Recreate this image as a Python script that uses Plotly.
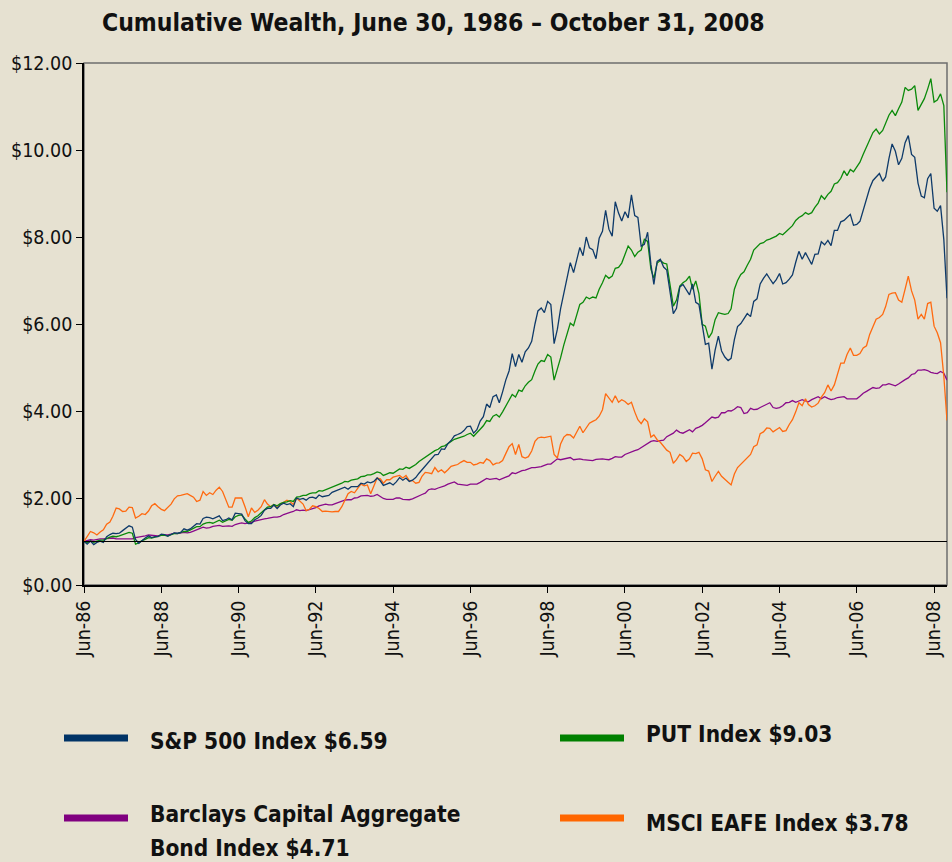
import pandas as pd
import plotly.graph_objects as go

# ---------------- data (monthly, Jun-86 .. Oct-08, growth of $1) ----------------
months = pd.date_range("1986-06-01", "2008-10-01", freq="MS")

sp500 = [
    1.00, 0.94, 1.01, 0.93, 0.98, 1.01, 0.98,                                # 1986 Jun-Dec
    1.11, 1.16, 1.19, 1.18, 1.19, 1.25, 1.31, 1.36, 1.33, 1.05, 0.96, 1.03,  # 1987
    1.08, 1.13, 1.09, 1.11, 1.11, 1.17, 1.16, 1.12, 1.17, 1.20, 1.19, 1.21,  # 1988
    1.29, 1.26, 1.29, 1.36, 1.41, 1.40, 1.53, 1.56, 1.55, 1.52, 1.55, 1.59,  # 1989
    1.48, 1.50, 1.54, 1.50, 1.65, 1.64, 1.63, 1.48, 1.41, 1.41, 1.50, 1.54,  # 1990
    1.60, 1.72, 1.76, 1.76, 1.84, 1.76, 1.84, 1.88, 1.85, 1.87, 1.80, 2.00,  # 1991
    1.97, 1.99, 1.95, 2.01, 2.02, 1.99, 2.07, 2.03, 2.05, 2.06, 2.13, 2.16,  # 1992
    2.18, 2.21, 2.25, 2.20, 2.26, 2.26, 2.26, 2.34, 2.32, 2.37, 2.35, 2.38,  # 1993
    2.46, 2.39, 2.29, 2.32, 2.35, 2.30, 2.37, 2.47, 2.41, 2.46, 2.38, 2.41,  # 1994
    2.47, 2.57, 2.65, 2.72, 2.83, 2.90, 2.99, 3.00, 3.13, 3.12, 3.25, 3.32,  # 1995
    3.43, 3.46, 3.49, 3.55, 3.64, 3.65, 3.49, 3.57, 3.77, 3.87, 4.16, 4.08,  # 1996
    4.33, 4.37, 4.19, 4.44, 4.71, 4.92, 5.32, 5.02, 5.30, 5.12, 5.36, 5.45,  # 1997
    5.60, 6.00, 6.30, 6.37, 6.26, 6.52, 6.45, 5.55, 5.88, 6.35, 6.72, 7.12,  # 1998
    7.41, 7.18, 7.47, 7.76, 7.57, 8.00, 7.75, 7.71, 7.50, 7.97, 8.13, 8.61,  # 1999
    8.18, 8.02, 8.81, 8.55, 8.37, 8.58, 8.44, 8.97, 8.49, 8.45, 7.79, 7.83,  # 2000
    8.11, 7.37, 6.91, 7.44, 7.49, 7.31, 7.24, 6.79, 6.24, 6.36, 6.85, 6.91,  # 2001
    6.80, 6.67, 6.92, 6.50, 6.45, 5.99, 5.53, 5.56, 4.96, 5.40, 5.72, 5.38,  # 2002
    5.24, 5.16, 5.21, 5.64, 5.94, 6.01, 6.12, 6.24, 6.17, 6.52, 6.58, 6.92,  # 2003
    7.05, 7.15, 7.04, 6.93, 7.02, 7.16, 6.92, 6.95, 7.03, 7.13, 7.42, 7.67,  # 2004
    7.49, 7.64, 7.51, 7.37, 7.60, 7.61, 7.89, 7.82, 7.92, 7.80, 8.15, 8.15,  # 2005
    8.35, 8.38, 8.45, 8.52, 8.27, 8.29, 8.36, 8.62, 8.85, 9.12, 9.30, 9.38,  # 2006
    9.46, 9.28, 9.38, 9.80, 10.14, 9.97, 9.66, 9.81, 10.17, 10.33, 9.90, 9.83,  # 2007
    9.24, 8.94, 8.90, 9.34, 9.46, 8.66, 8.59, 8.72, 7.94, 6.59,              # 2008 Jan-Oct
]

put_index = [
    1.00, 0.97, 1.01, 0.98, 1.01, 1.03, 1.03,
    1.07, 1.10, 1.12, 1.11, 1.13, 1.16, 1.19, 1.21, 1.19, 0.94, 0.97, 1.02,
    1.05, 1.09, 1.08, 1.10, 1.11, 1.14, 1.14, 1.13, 1.16, 1.18, 1.18, 1.20,
    1.23, 1.23, 1.26, 1.30, 1.34, 1.34, 1.40, 1.43, 1.44, 1.42, 1.46, 1.49,
    1.44, 1.47, 1.51, 1.49, 1.57, 1.60, 1.61, 1.52, 1.44, 1.47, 1.55, 1.59,
    1.66, 1.75, 1.79, 1.80, 1.85, 1.82, 1.87, 1.90, 1.91, 1.94, 1.92, 2.02,
    2.03, 2.06, 2.06, 2.10, 2.12, 2.12, 2.17, 2.16, 2.19, 2.21, 2.25, 2.28,
    2.31, 2.34, 2.38, 2.37, 2.41, 2.43, 2.44, 2.49, 2.50, 2.53, 2.53, 2.56,
    2.60, 2.58, 2.52, 2.55, 2.58, 2.57, 2.62, 2.67, 2.66, 2.71, 2.68, 2.72,
    2.77, 2.84, 2.89, 2.94, 3.00, 3.04, 3.09, 3.12, 3.18, 3.20, 3.26, 3.30,
    3.35, 3.37, 3.39, 3.42, 3.46, 3.49, 3.42, 3.49, 3.58, 3.66, 3.78, 3.76,
    3.88, 3.92, 3.86, 3.98, 4.12, 4.23, 4.38, 4.32, 4.48, 4.45, 4.58, 4.66,
    4.72, 4.92, 5.08, 5.16, 5.14, 5.30, 5.24, 4.71, 4.95, 5.22, 5.52, 5.78,
    6.02, 5.96, 6.20, 6.45, 6.50, 6.62, 6.58, 6.62, 6.60, 6.80, 6.95, 7.12,
    7.05, 7.10, 7.28, 7.30, 7.40, 7.62, 7.79, 7.70, 7.55, 7.65, 7.70, 7.95,
    7.90, 7.26, 7.05, 7.40, 7.46, 7.40, 7.38, 6.90, 6.41, 6.55, 6.87, 6.95,
    7.00, 7.10, 6.80, 6.99, 6.70, 5.99, 5.95, 5.68, 5.80, 6.10, 6.26, 6.24,
    6.22, 6.24, 6.35, 6.80, 7.00, 7.14, 7.20, 7.35, 7.49, 7.70, 7.78, 7.85,
    7.87, 7.93, 7.95, 7.99, 8.02, 8.08, 8.05, 8.12, 8.18, 8.26, 8.38, 8.45,
    8.49, 8.56, 8.52, 8.56, 8.68, 8.78, 8.95, 8.87, 8.98, 9.05, 9.22, 9.25,
    9.35, 9.52, 9.41, 9.55, 9.50, 9.60, 9.72, 9.90, 10.08, 10.25, 10.40, 10.48,
    10.37, 10.45, 10.60, 10.80, 10.91, 10.79, 10.95, 11.10, 11.44, 11.37, 11.40, 11.48,
    10.91, 11.05, 11.18, 11.40, 11.64, 11.10, 11.15, 11.29, 11.02, 9.03,
]

agg_bond = [
    1.00, 1.02, 1.04, 1.03, 1.05, 1.06, 1.06,
    1.07, 1.08, 1.08, 1.06, 1.06, 1.07, 1.07, 1.07, 1.06, 1.09, 1.10, 1.11,
    1.13, 1.15, 1.14, 1.13, 1.13, 1.15, 1.15, 1.15, 1.17, 1.19, 1.18, 1.19,
    1.21, 1.20, 1.21, 1.24, 1.27, 1.30, 1.33, 1.31, 1.32, 1.35, 1.36, 1.37,
    1.35, 1.36, 1.36, 1.35, 1.39, 1.41, 1.43, 1.41, 1.42, 1.44, 1.47, 1.49,
    1.51, 1.52, 1.53, 1.55, 1.56, 1.56, 1.58, 1.62, 1.65, 1.67, 1.69, 1.73,
    1.71, 1.72, 1.71, 1.73, 1.76, 1.78, 1.82, 1.84, 1.86, 1.84, 1.84, 1.87,
    1.90, 1.94, 1.95, 1.96, 1.96, 2.00, 2.01, 2.05, 2.05, 2.06, 2.04, 2.05,
    2.08, 2.04, 1.99, 1.97, 1.97, 1.97, 2.00, 2.00, 1.97, 1.97, 1.96, 1.98,
    2.02, 2.06, 2.08, 2.11, 2.19, 2.21, 2.20, 2.23, 2.25, 2.28, 2.32, 2.35,
    2.37, 2.32, 2.31, 2.29, 2.29, 2.32, 2.32, 2.32, 2.36, 2.41, 2.45, 2.43,
    2.44, 2.45, 2.42, 2.46, 2.48, 2.51, 2.58, 2.56, 2.60, 2.63, 2.64, 2.67,
    2.70, 2.70, 2.71, 2.72, 2.75, 2.78, 2.78, 2.83, 2.90, 2.88, 2.90, 2.91,
    2.93, 2.88, 2.89, 2.90, 2.88, 2.87, 2.86, 2.86, 2.89, 2.90, 2.90, 2.89,
    2.88, 2.91, 2.95, 2.94, 2.94, 3.00, 3.03, 3.07, 3.09, 3.11, 3.16, 3.22,
    3.27, 3.30, 3.32, 3.30, 3.32, 3.33, 3.41, 3.45, 3.49, 3.56, 3.51, 3.49,
    3.54, 3.57, 3.52, 3.60, 3.63, 3.67, 3.73, 3.80, 3.86, 3.84, 3.86, 3.96,
    3.96, 4.01, 4.00, 4.04, 4.10, 4.08, 3.94, 3.96, 4.06, 4.03, 4.04, 4.08,
    4.12, 4.16, 4.19, 4.08, 4.06, 4.08, 4.12, 4.19, 4.20, 4.24, 4.20, 4.23,
    4.26, 4.23, 4.21, 4.26, 4.30, 4.33, 4.28, 4.33, 4.29, 4.26, 4.28, 4.31,
    4.32, 4.33, 4.28, 4.28, 4.27, 4.28, 4.34, 4.41, 4.45, 4.49, 4.54, 4.52,
    4.53, 4.60, 4.60, 4.63, 4.60, 4.58, 4.62, 4.68, 4.72, 4.76, 4.84, 4.86,
    4.94, 4.94, 4.95, 4.93, 4.89, 4.87, 4.86, 4.91, 4.87, 4.71,
]

msci_eafe = [
    1.00, 1.12, 1.23, 1.20, 1.15, 1.22, 1.27,
    1.40, 1.45, 1.58, 1.77, 1.75, 1.69, 1.70, 1.79, 1.78, 1.54, 1.58, 1.64,
    1.62, 1.70, 1.82, 1.87, 1.80, 1.74, 1.71, 1.78, 1.86, 1.98, 2.05, 2.06,
    2.08, 2.10, 2.06, 2.02, 1.92, 1.95, 2.15, 2.06, 2.12, 2.08, 2.18, 2.25,
    2.15, 1.95, 1.79, 1.79, 2.00, 2.00, 2.00, 1.80, 1.57, 1.77, 1.67, 1.72,
    1.80, 1.96, 1.86, 1.80, 1.85, 1.78, 1.86, 1.90, 1.95, 1.92, 1.85, 2.00,
    1.94, 1.86, 1.71, 1.74, 1.82, 1.80, 1.76, 1.69, 1.70, 1.69, 1.68, 1.69,
    1.69, 1.80, 1.96, 2.10, 2.15, 2.12, 2.22, 2.32, 2.28, 2.30, 2.10, 2.26,
    2.46, 2.44, 2.34, 2.42, 2.42, 2.48, 2.50, 2.52, 2.46, 2.52, 2.40, 2.40,
    2.34, 2.36, 2.50, 2.59, 2.58, 2.56, 2.70, 2.60, 2.65, 2.58, 2.65, 2.73,
    2.75, 2.77, 2.82, 2.86, 2.82, 2.82, 2.76, 2.78, 2.82, 2.80, 2.90, 2.86,
    2.76, 2.80, 2.81, 2.86, 3.02, 3.18, 3.25, 3.00, 3.23, 2.95, 2.92, 2.95,
    3.08, 3.30, 3.38, 3.40, 3.39, 3.40, 3.42, 3.00, 2.92, 3.24, 3.40, 3.46,
    3.45, 3.38, 3.52, 3.65, 3.50, 3.62, 3.72, 3.76, 3.80, 3.88, 4.03, 4.40,
    4.30, 4.20, 4.35, 4.20, 4.26, 4.22, 4.15, 4.20, 3.98, 3.80, 3.71, 3.82,
    3.75, 3.40, 3.45, 3.34, 3.28, 3.20, 3.10, 3.05, 2.80, 2.88, 3.00, 2.95,
    2.84, 2.90, 3.03, 3.02, 3.05, 2.90, 2.65, 2.62, 2.38, 2.50, 2.61, 2.50,
    2.42, 2.36, 2.30, 2.55, 2.70, 2.78, 2.85, 2.92, 3.00, 3.18, 3.22, 3.48,
    3.52, 3.61, 3.60, 3.52, 3.57, 3.62, 3.53, 3.55, 3.69, 3.80, 3.98, 4.19,
    4.12, 4.28, 4.15, 4.09, 4.12, 4.18, 4.32, 4.42, 4.60, 4.46, 4.60, 4.84,
    5.10, 5.10, 5.30, 5.45, 5.28, 5.28, 5.32, 5.45, 5.50, 5.76, 5.95, 6.11,
    6.15, 6.22, 6.40, 6.68, 6.71, 6.72, 6.55, 6.50, 6.80, 7.10, 6.76, 6.55,
    6.11, 6.22, 6.11, 6.47, 6.50, 5.95, 5.80, 5.57, 4.80, 3.78,
]

series_names = ["S&P 500 Index", "PUT Index", "Barclays Capital Aggregate Bond Index", "MSCI EAFE Index"]
legend_lines = [
    ("S&P 500 Index $6.59",),
    ("PUT Index $9.03",),
    ("Barclays Capital Aggregate", "Bond Index $4.71"),
    ("MSCI EAFE Index $3.78",),
]
y_ticks = [0, 2, 4, 6, 8, 10, 12]
x_ticks = pd.date_range("1986-06-01", "2008-06-01", freq="24MS")
title_text = "Cumulative Wealth, June 30, 1986 \u2013 October 31, 2008"

# ---------------- styling ----------------
BG = "#E6E1D1"
FONT = "DejaVu Sans Condensed, Liberation Sans Narrow, Arial Narrow, sans-serif"
colors = {"sp": "#0E3A6A", "put": "#0A8A0A", "agg": "#8A0A8A", "eafe": "#FF6A10"}
swatch = {"sp": "#003366", "put": "#008000", "agg": "#800080", "eafe": "#FF6600"}

W, H = 952, 862
L, R, T, B = 84, 947, 63, 585


def px(x):
    return (x - L) / (R - L)


def py(y):
    return (B - y) / (B - T)


fig = go.Figure()
for key, ys, name in [("agg", agg_bond, series_names[2]),
                      ("eafe", msci_eafe, series_names[3]),
                      ("put", put_index, series_names[1]),
                      ("sp", sp500, series_names[0])]:
    fig.add_trace(go.Scatter(x=months, y=ys, mode="lines", name=name,
                             line=dict(color=colors[key], width=1.3),
                             showlegend=False))

shapes = [
    dict(type="rect", xref="paper", yref="paper", x0=0, x1=1, y0=0, y1=1,
         line=dict(color="#6E6E6E", width=1.5), layer="below"),
    dict(type="line", xref="paper", yref="y", x0=0, x1=1, y0=1, y1=1,
         line=dict(color="#000000", width=1.2)),
]
for key, (x0, yc) in {"sp": (64, 738), "put": (560, 738),
                      "agg": (64, 818), "eafe": (560, 818)}.items():
    shapes.append(dict(type="line", xref="paper", yref="paper",
                       x0=px(x0), x1=px(x0 + 64), y0=py(yc), y1=py(yc),
                       line=dict(color=swatch[key], width=7)))

annotations = [
    dict(text="<b>" + title_text + "</b>", xref="paper", yref="paper",
         x=px(100), y=py(22), xanchor="left", yanchor="middle", showarrow=False,
         font=dict(family=FONT, size=24.5, color="#111111")),
]
legend_text_pos = [
    (148, [741]),
    (644, [734]),
    (148, [814, 848]),
    (644, [823]),
]
for lines, (x0, ys) in zip(legend_lines, legend_text_pos):
    for t, yc in zip(lines, ys):
        annotations.append(dict(text="<b>" + t + "</b>", xref="paper", yref="paper",
                                x=px(x0), y=py(yc), xanchor="left", yanchor="middle",
                                showarrow=False,
                                font=dict(family=FONT, size=22.5, color="#111111")))

fig.update_layout(
    width=W, height=H,
    margin=dict(l=L, r=W - R, t=T, b=H - B, pad=0),
    paper_bgcolor=BG, plot_bgcolor=BG,
    font=dict(family=FONT, size=19.5, color="#111111"),
    shapes=shapes, annotations=annotations,
    xaxis=dict(range=[months[0], months[-1]], tickvals=x_ticks, tickformat="%b-%y",
               tickangle=-90, ticks="outside", ticklen=6, tickcolor="#000000",
               showline=True, linecolor="#000000", linewidth=1.5,
               showgrid=False, zeroline=False,
               tickfont=dict(family=FONT, size=19.5, color="#111111")),
    yaxis=dict(range=[0, 12], tickvals=y_ticks, tickformat="$.2f",
               ticks="outside", ticklen=6, tickcolor="#000000",
               showline=True, linecolor="#000000", linewidth=1.5,
               showgrid=False, zeroline=False,
               tickfont=dict(family=FONT, size=19.5, color="#111111")),
)

fig.write_html(
    "out.html",
    config={"displayModeBar": False},
    post_script="document.body.style.margin='0';document.body.style.overflow='hidden';"
                "document.documentElement.style.overflow='hidden';",
)
